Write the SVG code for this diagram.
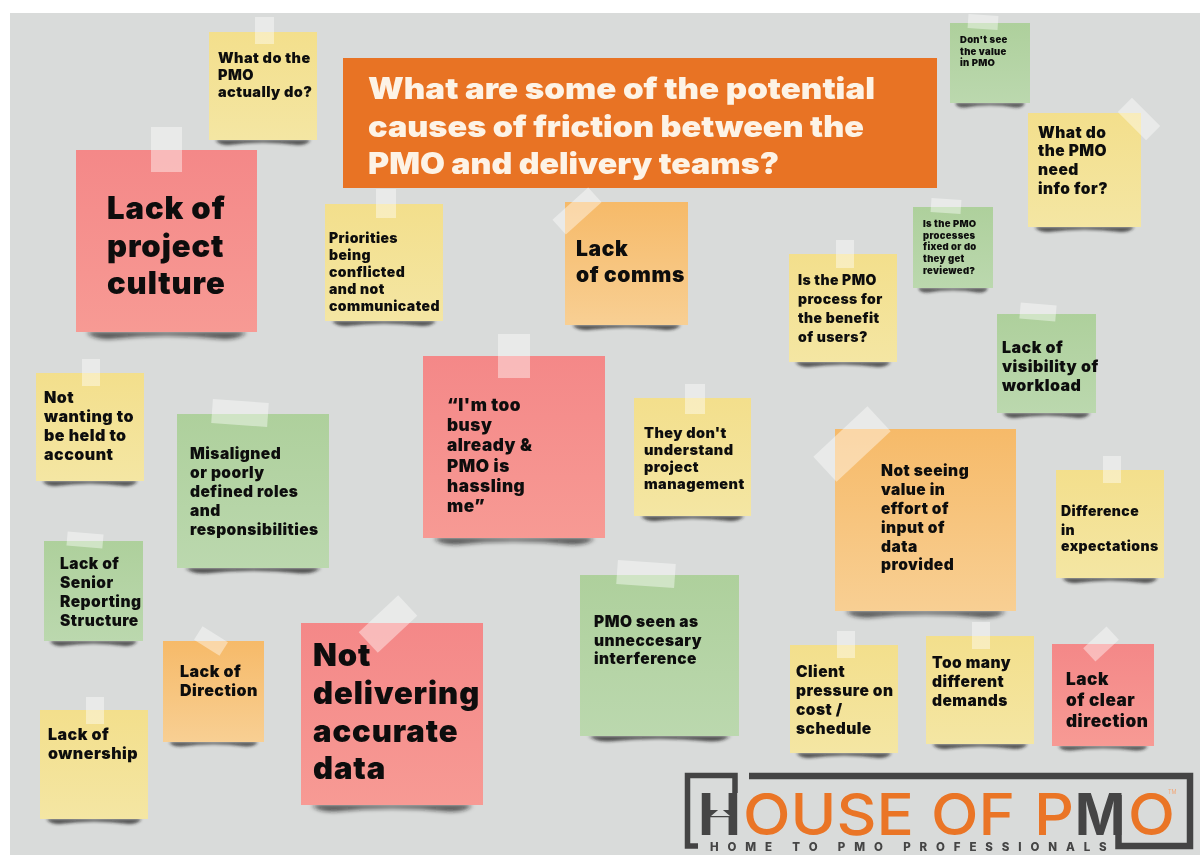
<svg xmlns="http://www.w3.org/2000/svg" width="1200" height="855" viewBox="0 0 1200 855">
<style>
text{font-family:"Inter","Liberation Sans",sans-serif;font-weight:900;fill:#0a0a0a;letter-spacing:.03em;filter:url(#soft)}
.tape{fill:#fff;fill-opacity:.42}
.y{fill:url(#gy)}.r{fill:url(#gr)}.g{fill:url(#gg)}.o{fill:url(#go)}
.sh{fill:#1c1c1c;fill-opacity:.72;filter:url(#bl)}
.t8{font-size:9.500px}.t13{font-size:14px}.t14{font-size:14.500px}.t15{font-size:15.500px}.t16{font-size:16px}.t17{font-size:17.200px}.t21{font-size:21px}.t31{font-size:31px}
.ti{font-size:29.500px;letter-spacing:0}.ti{fill:#fdf3e6}
.lg{letter-spacing:0;font-size:58px}
.d{fill:#444;font-weight:700}.or{fill:#ea7425;font-weight:500}
</style>
<defs>
<linearGradient id="gy" x1="0" y1="0" x2="0" y2="1"><stop offset="0" stop-color="#f3df8c"/><stop offset="1" stop-color="#f4e6a3"/></linearGradient>
<linearGradient id="gr" x1="0" y1="0" x2="0" y2="1"><stop offset="0" stop-color="#f48888"/><stop offset="1" stop-color="#f79a94"/></linearGradient>
<linearGradient id="gg" x1="0" y1="0" x2="0" y2="1"><stop offset="0" stop-color="#aed09c"/><stop offset="1" stop-color="#bbd8ae"/></linearGradient>
<linearGradient id="go" x1="0" y1="0" x2="0" y2="1"><stop offset="0" stop-color="#f6ba69"/><stop offset="1" stop-color="#f8cf93"/></linearGradient>
<filter id="bl" x="-10%" y="-100%" width="120%" height="300%"><feGaussianBlur stdDeviation="1.5"/></filter>
<filter id="soft" x="-5%" y="-10%" width="110%" height="120%"><feGaussianBlur stdDeviation=".4"/></filter>
<path id="s" d="M6 0H94Q91 5 82 5Q50 0 18 5Q9 5 6 0Z"/>
</defs>
<rect width="1200" height="855" fill="#fff"/>
<rect x="10" y="13" width="1190" height="842" fill="#d9dbda"/>

<g id="title"><rect x="343" y="58" width="594" height="130" fill="#e87324"/>
<text class="ti" x="368" y="99" textLength="507" lengthAdjust="spacingAndGlyphs">What are some of the potential</text>
<text class="ti" x="368" y="137" textLength="496" lengthAdjust="spacingAndGlyphs">causes of friction between the</text>
<text class="ti" x="368" y="174" textLength="411" lengthAdjust="spacingAndGlyphs">PMO and delivery teams?</text></g>

<g id="n1"><use href="#s" class="sh" transform="translate(209 140) scale(1.08 1)"/><rect class="y" x="209" y="32" width="108" height="108"/><rect class="tape" x="255" y="17" width="19" height="27"/>
<text class="t14" x="218" y="63">What do the</text><text class="t14" x="218" y="80">PMO</text><text class="t14" x="218" y="97">actually do?</text></g>

<g id="n2"><use href="#s" class="sh" transform="translate(76 332) scale(1.81 1.4)"/><rect class="r" x="76" y="150" width="181" height="182"/><rect class="tape" x="151" y="127" width="31" height="45"/>
<text class="t31" x="107" y="219">Lack of</text><text class="t31" x="107" y="257">project</text><text class="t31" x="107" y="294">culture</text></g>

<g id="n3"><use href="#s" class="sh" transform="translate(325 321) scale(1.18 1)"/><rect class="y" x="325" y="204" width="118" height="117"/><rect class="tape" x="376" y="189" width="20" height="29"/>
<text class="t13" x="329" y="243">Priorities</text><text class="t13" x="329" y="260">being</text><text class="t13" x="329" y="277">conflicted</text><text class="t13" x="329" y="294">and not</text><text class="t13" x="329" y="311">communicated</text></g>

<g id="n4"><use href="#s" class="sh" transform="translate(565 325) scale(1.23 1)"/><rect class="o" x="565" y="202" width="123" height="123"/><rect class="tape" x="-10" y="-24" width="20" height="48" transform="translate(577 211) rotate(48)"/>
<text class="t21" x="576" y="256">Lack</text><text class="t21" x="576" y="282">of comms</text></g>

<g id="n5"><use href="#s" class="sh" transform="translate(950 103) scale(.8 .9)"/><rect class="g" x="950" y="23" width="80" height="80"/><rect class="tape" x="-15" y="-7" width="30" height="14" transform="translate(983 22) rotate(4)"/>
<text class="t8" x="960" y="43">Don't see</text><text class="t8" x="960" y="55">the value</text><text class="t8" x="960" y="66">in PMO</text></g>

<g id="n6"><use href="#s" class="sh" transform="translate(1028 227) scale(1.13 1)"/><rect class="y" x="1028" y="113" width="113" height="114"/><rect class="tape" x="-10" y="-20" width="20" height="40" transform="translate(1139 119) rotate(-45)"/>
<text class="t15" x="1038" y="138">What do</text><text class="t15" x="1038" y="156">the PMO</text><text class="t15" x="1038" y="175">need</text><text class="t15" x="1038" y="194">info for?</text></g>

<g id="n7"><use href="#s" class="sh" transform="translate(913 288) scale(.8 .9)"/><rect class="g" x="913" y="207" width="80" height="81"/><rect class="tape" x="-15" y="-7" width="30" height="14" transform="translate(946 206) rotate(4)"/>
<text class="t8" x="923" y="227">Is the PMO</text><text class="t8" x="923" y="239">processes</text><text class="t8" x="923" y="250">fixed or do</text><text class="t8" x="923" y="262">they get</text><text class="t8" x="923" y="274">reviewed?</text></g>

<g id="n8"><use href="#s" class="sh" transform="translate(789 362) scale(1.08 1)"/><rect class="y" x="789" y="254" width="108" height="108"/><rect class="tape" x="836" y="240" width="18" height="28"/>
<text class="t13" x="798" y="285">Is the PMO</text><text class="t13" x="798" y="304">process for</text><text class="t13" x="798" y="323">the benefit</text><text class="t13" x="798" y="342">of users?</text></g>

<g id="n9"><use href="#s" class="sh" transform="translate(997 413) scale(.99 1)"/><rect class="g" x="997" y="314" width="99" height="99"/><rect class="tape" x="-18" y="-8" width="36" height="16" transform="translate(1038 312) rotate(5)"/>
<text class="t16" x="1002" y="353">Lack of</text><text class="t16" x="1002" y="372">visibility of</text><text class="t16" x="1002" y="391">workload</text></g>

<g id="n10"><use href="#s" class="sh" transform="translate(36 481) scale(1.08 1)"/><rect class="y" x="36" y="373" width="108" height="108"/><rect class="tape" x="82" y="359" width="18" height="27"/>
<text class="t16" x="44" y="403">Not</text><text class="t16" x="44" y="422">wanting to</text><text class="t16" x="44" y="441">be held to</text><text class="t16" x="44" y="460">account</text></g>

<g id="n11"><use href="#s" class="sh" transform="translate(177 568) scale(1.52 1.1)"/><rect class="g" x="177" y="414" width="152" height="154"/><rect class="tape" x="-28" y="-12" width="56" height="24" transform="translate(240 413) rotate(4)"/>
<text class="t15" x="190" y="459">Misaligned</text><text class="t15" x="190" y="478">or poorly</text><text class="t15" x="190" y="497">defined roles</text><text class="t15" x="190" y="516">and</text><text class="t15" x="190" y="535">responsibilities</text></g>

<g id="n12"><use href="#s" class="sh" transform="translate(423 538) scale(1.82 1.3)"/><rect class="r" x="423" y="356" width="182" height="182"/><rect class="tape" x="498" y="334" width="32" height="44"/>
<text class="t17" x="447" y="411">“I'm too</text><text class="t17" x="447" y="431">busy</text><text class="t17" x="447" y="451">already &amp;</text><text class="t17" x="447" y="472">PMO is</text><text class="t17" x="447" y="492">hassling</text><text class="t17" x="447" y="512">me”</text></g>

<g id="n13"><use href="#s" class="sh" transform="translate(634 516) scale(1.17 1)"/><rect class="y" x="634" y="398" width="117" height="118"/><rect class="tape" x="685" y="384" width="20" height="30"/>
<text class="t14" x="644" y="438">They don't</text><text class="t14" x="644" y="455">understand</text><text class="t14" x="644" y="472">project</text><text class="t14" x="644" y="489">management</text></g>

<g id="n14"><use href="#s" class="sh" transform="translate(835 611) scale(1.81 1.3)"/><rect class="o" x="835" y="429" width="181" height="182"/><rect class="tape" x="-17" y="-37" width="34" height="74" transform="translate(852 444) rotate(47)"/>
<text class="t15" x="881" y="476">Not seeing</text><text class="t15" x="881" y="495">value in</text><text class="t15" x="881" y="514">effort of</text><text class="t15" x="881" y="533">input of</text><text class="t15" x="881" y="552">data</text><text class="t15" x="881" y="570">provided</text></g>

<g id="n15"><use href="#s" class="sh" transform="translate(1056 578) scale(1.08 1)"/><rect class="y" x="1056" y="470" width="108" height="108"/><rect class="tape" x="1103" y="456" width="18" height="27"/>
<text class="t13" x="1061" y="516">Difference</text><text class="t13" x="1061" y="535">in</text><text class="t13" x="1061" y="551">expectations</text></g>

<g id="n16"><use href="#s" class="sh" transform="translate(44 641) scale(.99 1)"/><rect class="g" x="44" y="541" width="99" height="100"/><rect class="tape" x="-18" y="-7" width="36" height="14" transform="translate(85 540) rotate(5)"/>
<text class="t15" x="60" y="569">Lack of</text><text class="t15" x="60" y="588">Senior</text><text class="t15" x="60" y="607">Reporting</text><text class="t15" x="60" y="626">Structure</text></g>

<g id="n17"><use href="#s" class="sh" transform="translate(163 742) scale(1.01 .9)"/><rect class="o" x="163" y="641" width="101" height="101"/><rect class="tape" x="-8" y="-15" width="16" height="30" transform="translate(211 641) rotate(-58)"/>
<text class="t16" x="180" y="677">Lack of</text><text class="t16" x="180" y="696">Direction</text></g>

<g id="n18"><use href="#s" class="sh" transform="translate(301 805) scale(1.82 1.3)"/><rect class="r" x="301" y="623" width="182" height="182"/><rect class="tape" x="-14" y="-27" width="28" height="54" transform="translate(388 624) rotate(47)"/>
<text class="t31" x="313" y="666">Not</text><text class="t31" x="313" y="704">delivering</text><text class="t31" x="313" y="742">accurate</text><text class="t31" x="313" y="779">data</text></g>

<g id="n19"><use href="#s" class="sh" transform="translate(580 736) scale(1.59 1.1)"/><rect class="g" x="580" y="575" width="159" height="161"/><rect class="tape" x="-29" y="-12" width="58" height="24" transform="translate(646 574) rotate(4)"/>
<text class="t15" x="594" y="627">PMO seen as</text><text class="t15" x="594" y="646">unneccesary</text><text class="t15" x="594" y="664">interference</text></g>

<g id="n20"><use href="#s" class="sh" transform="translate(790 753) scale(1.08 1)"/><rect class="y" x="790" y="645" width="108" height="108"/><rect class="tape" x="837" y="631" width="18" height="27"/>
<text class="t15" x="796" y="677">Client</text><text class="t15" x="796" y="696">pressure on</text><text class="t15" x="796" y="715">cost /</text><text class="t15" x="796" y="734">schedule</text></g>

<g id="n21"><use href="#s" class="sh" transform="translate(926 744) scale(1.08 1)"/><rect class="y" x="926" y="636" width="108" height="108"/><rect class="tape" x="972" y="622" width="18" height="27"/>
<text class="t15" x="932" y="668">Too many</text><text class="t15" x="932" y="687">different</text><text class="t15" x="932" y="706">demands</text></g>

<g id="n22"><use href="#s" class="sh" transform="translate(1052 746) scale(1.02 .9)"/><rect class="r" x="1052" y="644" width="102" height="102"/><rect class="tape" x="-9" y="-16" width="18" height="32" transform="translate(1101 644) rotate(47)"/>
<text class="t17" x="1066" y="685">Lack</text><text class="t17" x="1066" y="706">of clear</text><text class="t17" x="1066" y="727">direction</text></g>

<g id="n23"><use href="#s" class="sh" transform="translate(40 819) scale(1.08 1)"/><rect class="y" x="40" y="710" width="108" height="109"/><rect class="tape" x="86" y="697" width="18" height="27"/>
<text class="t16" x="48" y="740">Lack of</text><text class="t16" x="48" y="759">ownership</text></g>

<g id="logo">
<path d="M698 846H687.500V775.500H735V793" fill="none" stroke="#444" stroke-width="5.500"/>
<path d="M749 776H1190V846H1118.500V795" fill="none" stroke="#444" stroke-width="6.500"/>
<text class="lg d" x="698" y="835" textLength="43" lengthAdjust="spacingAndGlyphs">H</text>
<path d="M711 816L720.500 808L730 816Z" fill="#d9dbda"/>
<text class="lg or" x="743" y="835" textLength="171" lengthAdjust="spacingAndGlyphs">OUSE</text>
<text class="lg or" x="931" y="835" textLength="84" lengthAdjust="spacingAndGlyphs">OF</text>
<text class="lg or" x="1034" y="835" textLength="40" lengthAdjust="spacingAndGlyphs">P</text>
<text class="lg d" x="1075" y="835" textLength="50" lengthAdjust="spacingAndGlyphs">M</text>
<text class="lg or" x="1128" y="835" textLength="47" lengthAdjust="spacingAndGlyphs">O</text>
<text x="1168" y="794" font-size="5.500" style="font-weight:400;fill:#f2a878;letter-spacing:0">TM</text>
<text x="710" y="851" font-size="11.500" textLength="397" lengthAdjust="spacing" style="font-weight:800;fill:#444">HOME TO PMO PROFESSIONALS</text>
</g>
</svg>
